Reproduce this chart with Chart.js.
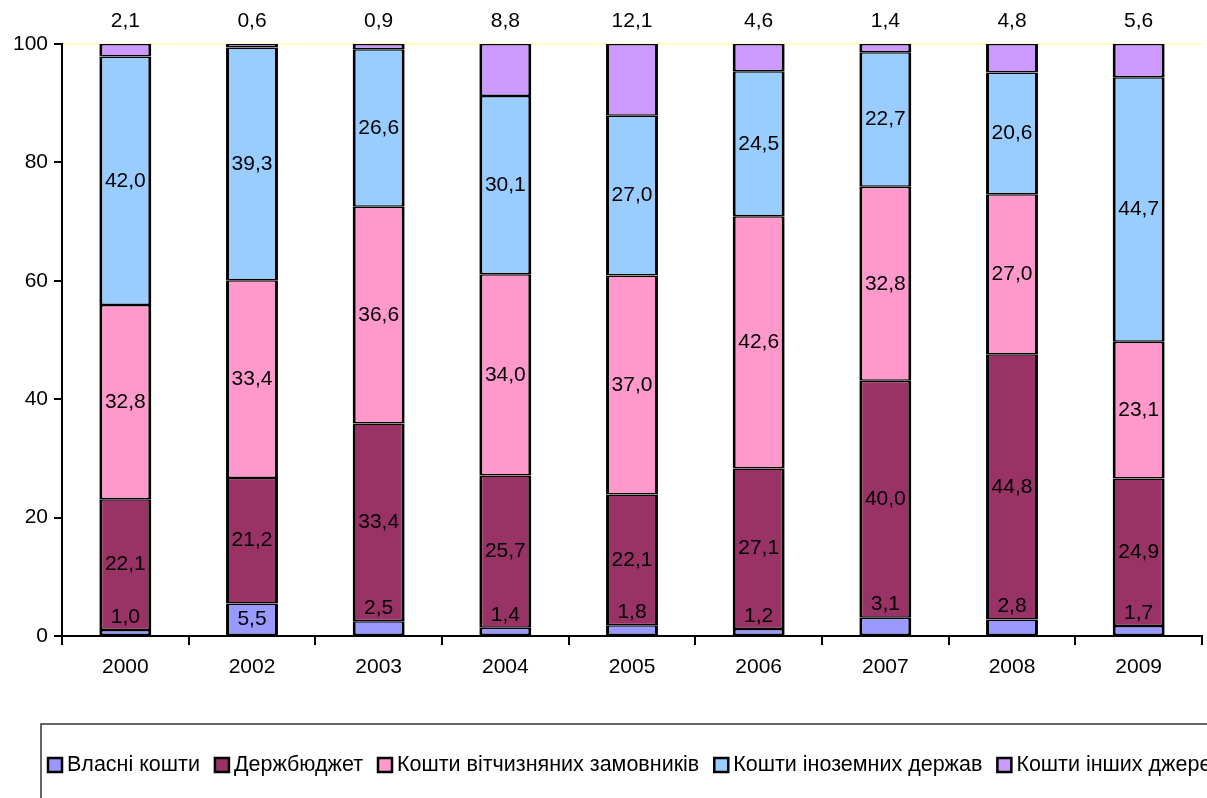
<!DOCTYPE html>
<html>
<head>
<meta charset="utf-8">
<script src="https://cdn.jsdelivr.net/npm/chart.js@4.4.1/dist/chart.umd.min.js"></script>
<style>
    html, body { margin: 0; padding: 0; background: #fff; }
    #wrap { width: 1207px; height: 798px; position: relative; }
</style>
</head>
<body>
<div id="wrap"><canvas id="funding-chart"></canvas></div>
<script>
// Дані діаграми (частка джерел фінансування, %)
const years = ['2000', '2002', '2003', '2004', '2005', '2006', '2007', '2008', '2009'];
const ownFunds = [1.0, 5.5, 2.5, 1.4, 1.8, 1.2, 3.1, 2.8, 1.7];
const stateBudget = [22.1, 21.2, 33.4, 25.7, 22.1, 27.1, 40.0, 44.8, 24.9];
const domesticCustomers = [32.8, 33.4, 36.6, 34.0, 37.0, 42.6, 32.8, 27.0, 23.1];
const foreignStates = [42.0, 39.3, 26.6, 30.1, 27.0, 24.5, 22.7, 20.6, 44.7];
const otherSources = [2.1, 0.6, 0.9, 8.8, 12.1, 4.6, 1.4, 4.8, 5.6];
const seriesNames = ['Власні кошти', 'Держбюджет', 'Кошти вітчизняних замовників', 'Кошти іноземних держав', 'Кошти інших джерел'];
const seriesColors = ['#9999FF', '#993366', '#FF99CC', '#99CCFF', '#CC99FF'];
const yTickValues = [0, 20, 40, 60, 80, 100];

const FONT = '"Liberation Sans", Arial, sans-serif';
Chart.defaults.font.family = FONT;
Chart.defaults.font.size = 21;
Chart.defaults.color = '#000';

// Формат числа з комою
function fmt(v) {
    return v.toFixed(1).replace('.', ',');
}

// Підписи значень на стовпчиках
const valueLabels = {
    id: 'valueLabels',
    afterDatasetsDraw(chart) {
        const ctx = chart.ctx;
        const last = chart.data.datasets.length - 1;
        ctx.save();
        ctx.font = '21px ' + FONT;
        ctx.fillStyle = '#000';
        ctx.textAlign = 'center';
        ctx.textBaseline = 'middle';
        chart.data.datasets.forEach((ds, i) => {
            const meta = chart.getDatasetMeta(i);
            meta.data.forEach((bar, j) => {
                const v = ds.data[j];
                let y = (bar.y + bar.base) / 2;
                if (i === last) {
                    y = chart.chartArea.top - 23;
                } else if (i === 0 && v < 5) {
                    y = bar.y - 13;
                }
                ctx.fillText(fmt(v), bar.x, y);
            });
        });
        ctx.restore();
    }
};

// Легенда в рамці під діаграмою
const boxLegend = {
    id: 'boxLegend',
    afterDraw(chart) {
        const ctx = chart.ctx;
        ctx.save();
        ctx.strokeStyle = '#333';
        ctx.lineWidth = 1.5;
        ctx.strokeRect(41, 724, 1200, 100);
        ctx.font = '21.5px ' + FONT;
        ctx.textBaseline = 'middle';
        ctx.textAlign = 'left';
        let x = 48;
        const cy = 765;
        chart.data.datasets.forEach(ds => {
            ctx.fillStyle = ds.backgroundColor;
            ctx.fillRect(x, cy - 7, 14, 14);
            ctx.strokeStyle = '#000';
            ctx.lineWidth = 2.5;
            ctx.strokeRect(x, cy - 7, 14, 14);
            ctx.fillStyle = '#000';
            ctx.fillText(ds.label, x + 19, cy);
            x += 19 + ctx.measureText(ds.label).width + 15;
        });
        ctx.restore();
    }
};

const seriesValues = [ownFunds, stateBudget, domesticCustomers, foreignStates, otherSources];

const fundingChart = new Chart(document.getElementById('funding-chart').getContext('2d'), {
    type: 'bar',
    data: {
        labels: years,
        datasets: seriesValues.map((values, i) => ({
            label: seriesNames[i],
            data: values,
            backgroundColor: seriesColors[i],
            borderColor: '#000',
            borderWidth: { left: 3, right: 3, top: 1.5, bottom: 1.5 },
            borderSkipped: false,
            barPercentage: 0.41,
            categoryPercentage: 1
        }))
    },
    options: {
        responsive: true,
        maintainAspectRatio: false,
        animation: false,
        layout: {
            padding: { left: 0, top: 44, right: 5, bottom: 0 }
        },
        plugins: {
            legend: { display: false },
            tooltip: { enabled: false }
        },
        scales: {
            x: {
                stacked: true,
                grid: {
                    offset: true,
                    drawOnChartArea: false,
                    tickColor: '#000',
                    tickLength: 9,
                    lineWidth: 2
                },
                border: { color: '#000', width: 2 },
                ticks: { padding: 10, color: '#000' },
                afterFit: function(scale) {
                    scale.height = 162;
                }
            },
            y: {
                stacked: true,
                min: 0,
                max: 100,
                afterBuildTicks: function(scale) {
                    scale.ticks = yTickValues.map(v => ({ value: v }));
                },
                grid: {
                    color: ctx => ctx.tick && ctx.tick.value === 100 ? '#FFFFC0' : 'transparent',
                    tickColor: '#000',
                    tickLength: 8,
                    lineWidth: 2
                },
                border: { color: '#000', width: 2 },
                ticks: { padding: 6, color: '#000' },
                afterFit: function(scale) {
                    scale.width = 62;
                }
            }
        }
    },
    plugins: [valueLabels, boxLegend]
});
</script>
</body>
</html>
